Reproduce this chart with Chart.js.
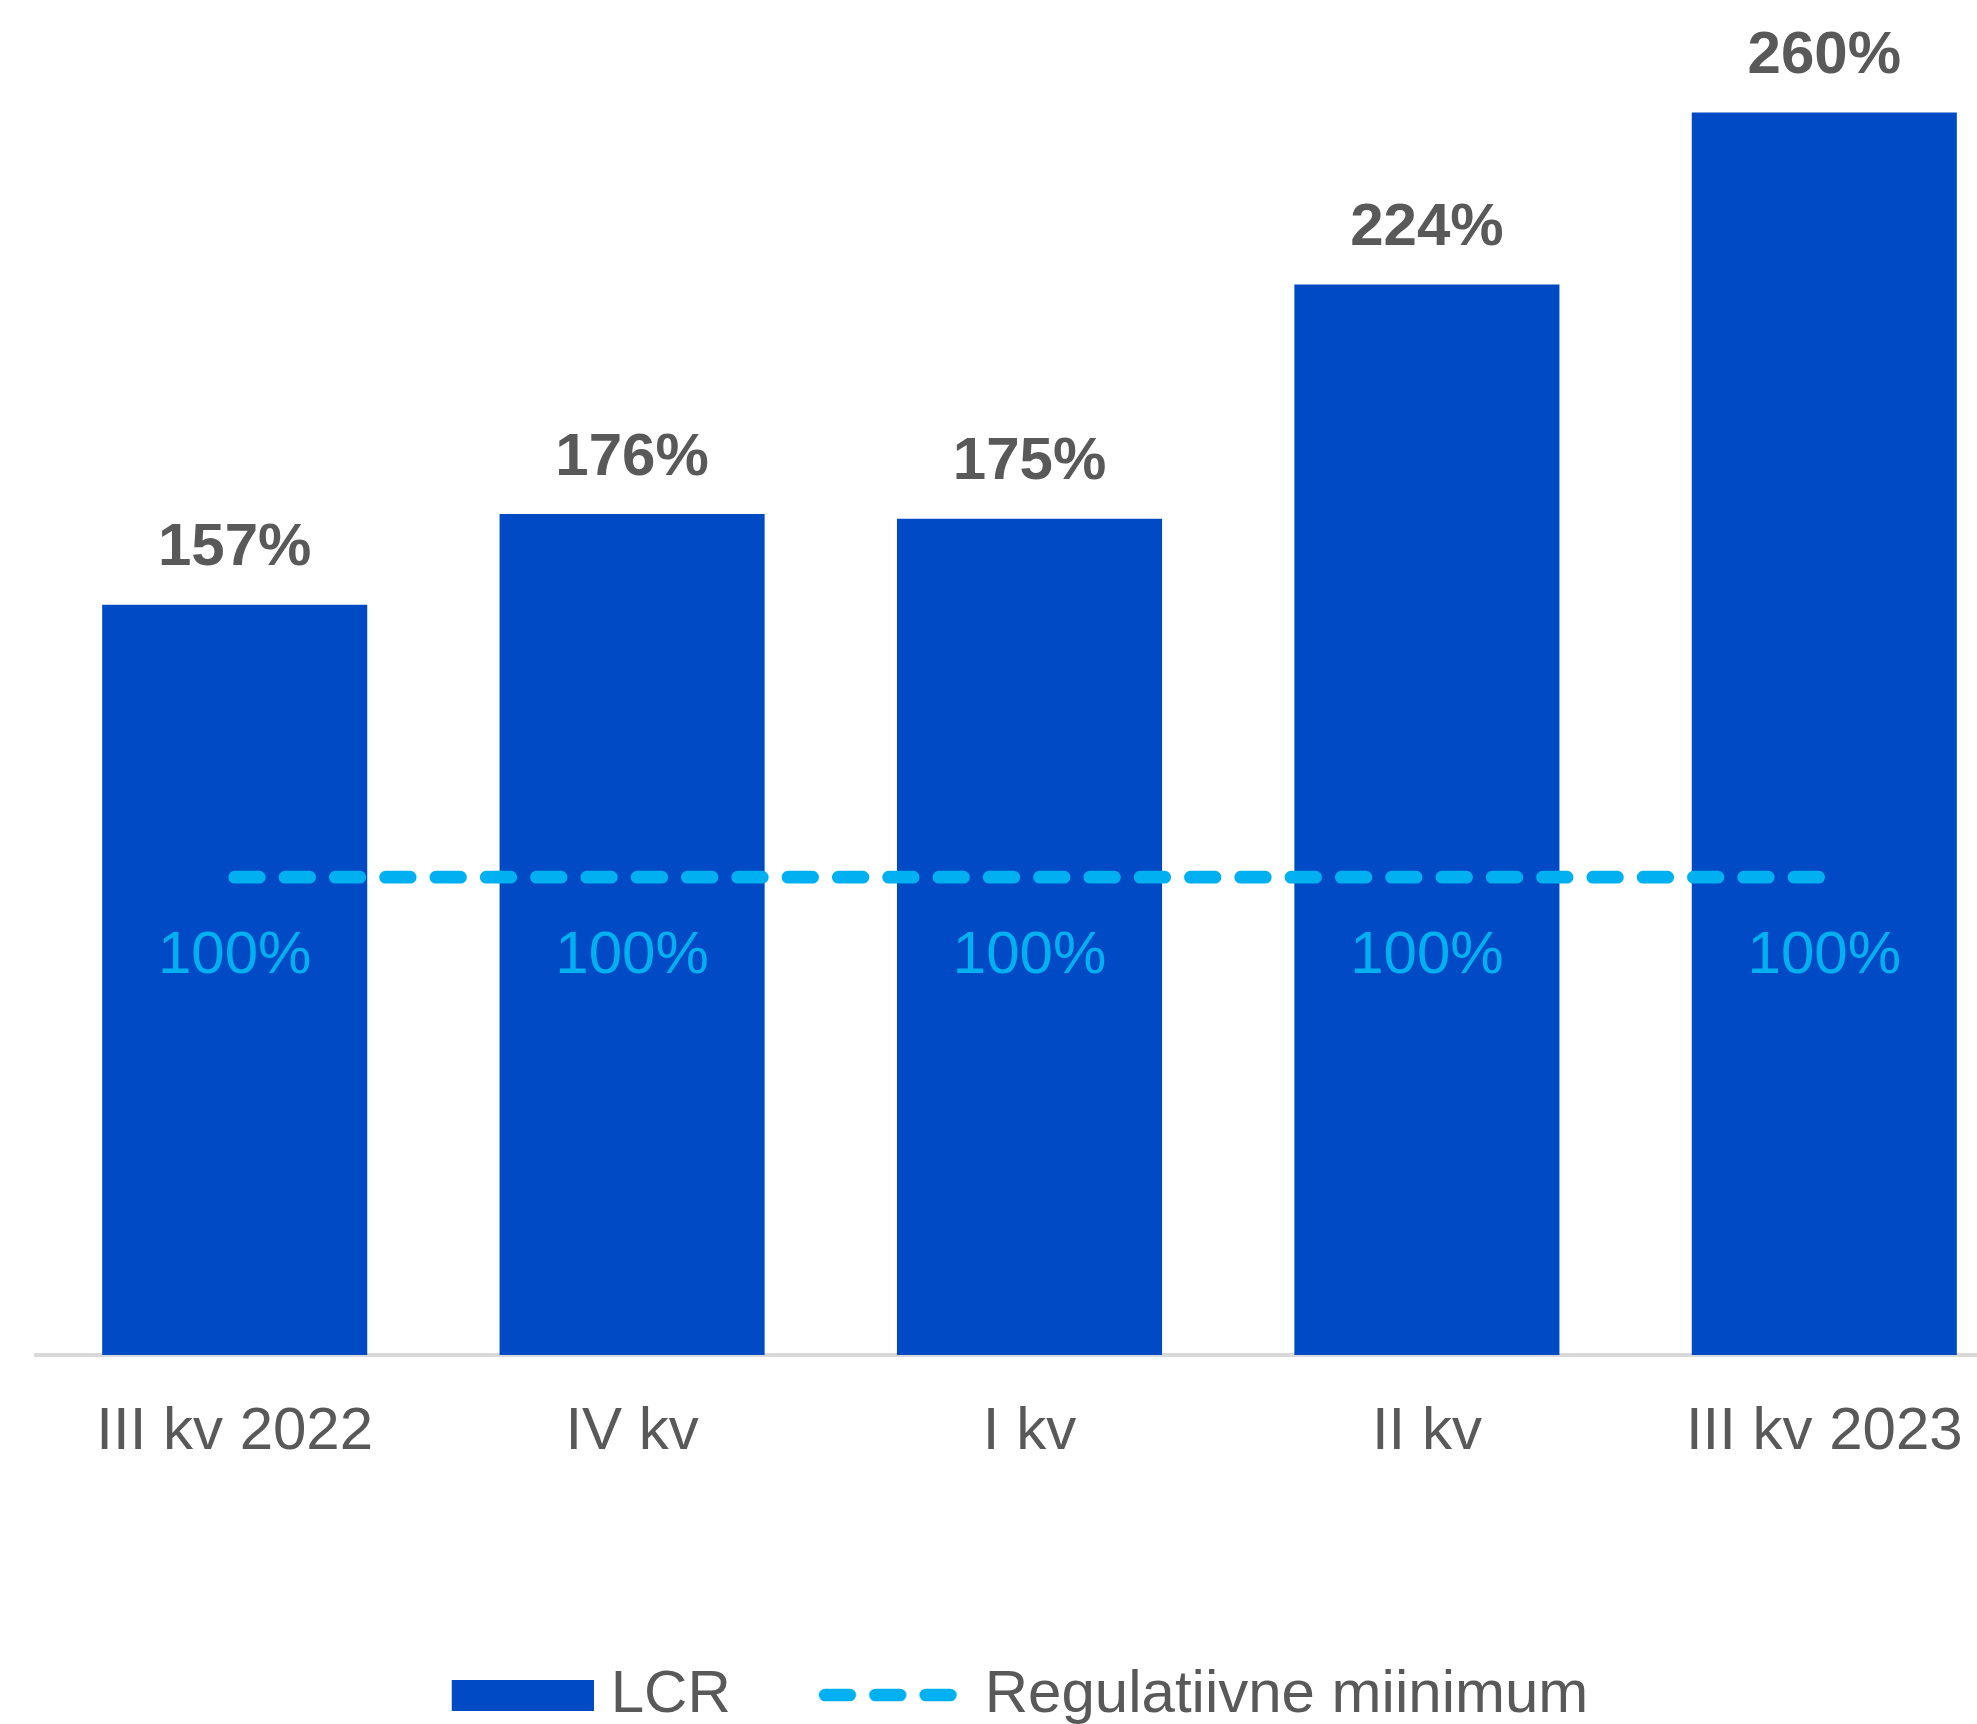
<!DOCTYPE html>
<html>
<head>
<meta charset="utf-8">
<script src="https://cdn.jsdelivr.net/npm/chart.js@4.4.0/dist/chart.umd.min.js"></script>
<style>
  html, body { margin: 0; padding: 0; background: #fff; overflow: hidden; }
  #wrap { width: 2050px; height: 1724px; }
</style>
</head>
<body>
<div id="wrap"><canvas id="grafico"></canvas></div>
<script>
// andmed
const kvartalid = ['III kv 2022', 'IV kv', 'I kv', 'II kv', 'III kv 2023']
const lcr = [157, 176, 175, 224, 260]
const miinimum = [100, 100, 100, 100, 100]
const seeriaNimed = ['LCR', 'Regulatiivne miinimum']

const fondiPere = "'Liberation Sans', Arial, sans-serif"
const hall = '#595959'
const sinine = '#004BC5'
const helesinine = '#00B0F0'
const kriips = [24.6, 25.7]

// legendi märgid (väike lõuend, et kasti ja teksti vahe oleks nagu originaalis)
const legendiKast = document.createElement('canvas')
legendiKast.width = 154
legendiKast.height = 31
legendiKast.getContext('2d').fillStyle = sinine
legendiKast.getContext('2d').fillRect(12, 0, 142, 31)

const legendiJoon = document.createElement('canvas')
legendiJoon.width = 156
legendiJoon.height = 20
const jctx = legendiJoon.getContext('2d')
jctx.strokeStyle = helesinine
jctx.lineWidth = 12.7
jctx.lineCap = 'round'
jctx.setLineDash(kriips)
jctx.beginPath()
jctx.moveTo(12.4, 10)
jctx.lineTo(137.6, 10)
jctx.stroke()

// legend natuke vasakule
const legendiNihe = {
    id: 'legendiNihe',
    afterLayout(chart) {
        chart.legend.left -= 9
        chart.legend.right -= 9
    }
}

// protsendid tulpade kohale ja joone alla
const vaartusteSildid = {
    id: 'vaartusteSildid',
    afterDatasetsDraw(chart) {
        const ctx = chart.ctx
        ctx.save()
        ctx.textAlign = 'center'
        ctx.textBaseline = 'middle'
        ctx.font = `bold 60px ${fondiPere}`
        ctx.fillStyle = hall
        chart.getDatasetMeta(0).data.forEach((bar, i) => {
            ctx.fillText(lcr[i] + '%', bar.x, bar.y - 56)
        })
        ctx.font = `60px ${fondiPere}`
        ctx.fillStyle = helesinine
        chart.getDatasetMeta(1).data.forEach((p, i) => {
            ctx.fillText(miinimum[i] + '%', p.x, p.y + 79)
        })
        ctx.restore()
    }
}

new Chart(document.getElementById('grafico'), {
    data: {
        labels: kvartalid,
        datasets: [{
            type: 'bar',
            label: seeriaNimed[0],
            data: lcr,
            backgroundColor: sinine,
            barPercentage: 0.667,
            categoryPercentage: 1,
            order: 1
        }, {
            type: 'line',
            label: seeriaNimed[1],
            data: miinimum,
            borderColor: helesinine,
            borderWidth: 12.7,
            borderDash: kriips,
            borderCapStyle: 'round',
            pointRadius: 0,
            fill: false,
            order: 0
        }]
    },
    options: {
        responsive: true,
        maintainAspectRatio: false,
        animation: false,
        devicePixelRatio: 1,
        layout: { padding: { left: 36, right: 27, top: 17, bottom: -11 } },
        plugins: {
            tooltip: { enabled: false },
            legend: {
                position: 'bottom',
                labels: {
                    usePointStyle: true,
                    pointStyleWidth: 128,
                    boxHeight: 31,
                    padding: 96,
                    color: hall,
                    font: { size: 60, family: fondiPere },
                    generateLabels: () => [{
                        text: seeriaNimed[0], fillStyle: sinine, strokeStyle: sinine,
                        lineWidth: 0, pointStyle: legendiKast, datasetIndex: 0, fontColor: hall, hidden: false
                    }, {
                        text: seeriaNimed[1], fillStyle: helesinine, strokeStyle: helesinine,
                        lineWidth: 0, pointStyle: legendiJoon, datasetIndex: 1, fontColor: hall, hidden: false
                    }]
                }
            }
        },
        scales: {
            x: {
                offset: true,
                grid: { display: false, drawTicks: false },
                border: { display: true, color: '#D9D9D9', width: 4 },
                ticks: {
                    color: hall,
                    font: { size: 60, family: fondiPere },
                    padding: 41,
                    maxRotation: 0,
                    autoSkip: false
                },
                afterFit: (scale) => { scale.height = 214 }
            },
            y: { display: false, min: 0, max: 280 }
        }
    },
    plugins: [vaartusteSildid, legendiNihe]
})
</script>
</body>
</html>
